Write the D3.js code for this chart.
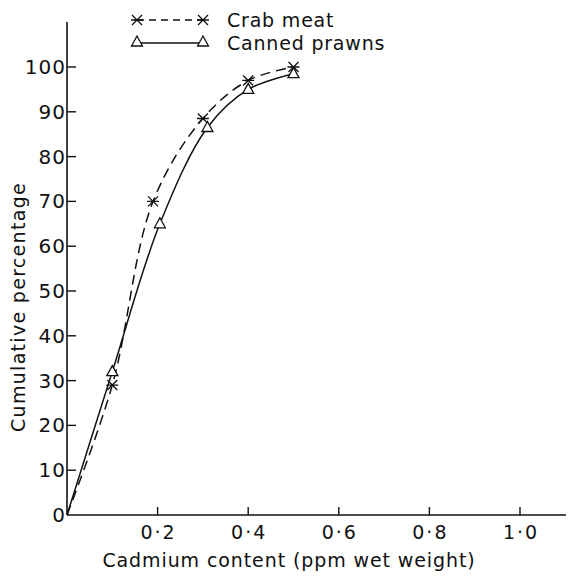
<!DOCTYPE html>
<html>
<head>
<meta charset="utf-8">
<script src="https://cdn.jsdelivr.net/npm/d3@7"></script>
<style>
  body { margin: 0; background: #fff; }
  svg text { font-family: "DejaVu Sans", sans-serif; fill: #111; }
</style>
</head>
<body>
<svg id="chart" width="568" height="576"></svg>
<script>
// Values
const crabX = [0, 0.1, 0.19, 0.3, 0.4, 0.5];
const crabY = [0, 29, 70, 88.5, 97, 100];
const prawnX = [0, 0.1, 0.205, 0.31, 0.4, 0.5];
const prawnY = [0, 32, 65, 86.5, 95, 98.5];
const xTicks = [0.2, 0.4, 0.6, 0.8, 1.0];
const xTickLabels = ["0·2", "0·4", "0·6", "0·8", "1·0"];
const yTicks = [0, 10, 20, 30, 40, 50, 60, 70, 80, 90, 100];
const seriesNames = ["Crab meat", "Canned prawns"];

const svg = d3.select("#chart");
const ink = "#111";

const x = d3.scaleLinear().domain([0, 1]).range([67, 520]);
const y = d3.scaleLinear().domain([0, 100]).range([515, 67]);

// Axes
const g = svg.append("g");

g.append("line")
  .attr("x1", x(0)).attr("x2", 566)
  .attr("y1", y(0)).attr("y2", y(0))
  .attr("stroke", ink).attr("stroke-width", 1.6);

g.append("line")
  .attr("x1", x(0)).attr("x2", x(0))
  .attr("y1", y(0)).attr("y2", 22)
  .attr("stroke", ink).attr("stroke-width", 1.6);

// x ticks point up into the plot
g.selectAll(".xtick")
  .data(xTicks)
  .enter().append("line")
  .attr("class", "xtick")
  .attr("x1", d => x(d)).attr("x2", d => x(d))
  .attr("y1", y(0)).attr("y2", y(0) - 8)
  .attr("stroke", ink).attr("stroke-width", 1.4);

g.selectAll(".xlabel")
  .data(xTicks)
  .enter().append("text")
  .attr("class", "xlabel")
  .attr("x", d => x(d) + 1)
  .attr("y", y(0) + 24)
  .attr("text-anchor", "middle")
  .style("font-size", "19px")
  .style("letter-spacing", "2px")
  .text((d, i) => xTickLabels[i]);

// y ticks point right into the plot
g.selectAll(".ytick")
  .data(yTicks.filter(d => d > 0))
  .enter().append("line")
  .attr("class", "ytick")
  .attr("x1", x(0)).attr("x2", x(0) + 9)
  .attr("y1", d => y(d)).attr("y2", d => y(d))
  .attr("stroke", ink).attr("stroke-width", 1.4);

g.selectAll(".ylabel")
  .data(yTicks)
  .enter().append("text")
  .attr("class", "ylabel")
  .attr("x", x(0) - 1)
  .attr("y", d => y(d) + 7)
  .attr("text-anchor", "end")
  .style("font-size", "20px")
  .style("letter-spacing", "1px")
  .text(d => d);

// Axis titles
svg.append("text")
  .attr("x", 289).attr("y", 567)
  .attr("text-anchor", "middle")
  .style("font-size", "19px")
  .style("letter-spacing", "0.9px")
  .text("Cadmium content (ppm wet weight)");

svg.append("text")
  .attr("transform", "translate(25,307) rotate(-90)")
  .attr("text-anchor", "middle")
  .style("font-size", "19px")
  .style("letter-spacing", "1.3px")
  .text("Cumulative percentage");

// Lines
const line = d3.line()
  .x(d => x(d[0]))
  .y(d => y(d[1]))
  .curve(d3.curveCatmullRom.alpha(0.5));

const crab = crabX.map((v, i) => [v, crabY[i]]);
const prawn = prawnX.map((v, i) => [v, prawnY[i]]);

svg.append("path")
  .datum(crab)
  .attr("d", line)
  .attr("fill", "none")
  .attr("stroke", ink)
  .attr("stroke-width", 1.5)
  .attr("stroke-dasharray", "10,6");

svg.append("path")
  .datum(prawn)
  .attr("d", line)
  .attr("fill", "none")
  .attr("stroke", ink)
  .attr("stroke-width", 1.5);

// Markers
function starMark(sel) {
  sel.append("path")
    .attr("d", "M-5,-5L5,5M-5,5L5,-5M-6,0L6,0")
    .attr("fill", "none")
    .attr("stroke", ink)
    .attr("stroke-width", 1.3);
}
function triMark(sel) {
  sel.append("path")
    .attr("d", "M0,-6L5.5,4L-5.5,4Z")
    .attr("fill", "#fff")
    .attr("stroke", ink)
    .attr("stroke-width", 1.3);
}

svg.selectAll(".crabpt")
  .data(crab.slice(1))
  .enter().append("g")
  .attr("class", "crabpt")
  .attr("transform", d => "translate(" + x(d[0]) + "," + y(d[1]) + ")")
  .call(starMark);

svg.selectAll(".prawnpt")
  .data(prawn.slice(1))
  .enter().append("g")
  .attr("class", "prawnpt")
  .attr("transform", d => "translate(" + x(d[0]) + "," + y(d[1]) + ")")
  .call(triMark);

// Legend
const legend = svg.append("g");

legend.append("line")
  .attr("x1", 137).attr("x2", 203).attr("y1", 20).attr("y2", 20)
  .attr("stroke", ink).attr("stroke-width", 1.4)
  .attr("stroke-dasharray", "7,5");
[137, 203].forEach(px => {
  legend.append("g").attr("transform", "translate(" + px + ",20)").call(starMark);
});
legend.append("text")
  .attr("x", 227).attr("y", 27)
  .style("font-size", "19px")
  .style("letter-spacing", "0.8px")
  .text(seriesNames[0]);

legend.append("line")
  .attr("x1", 137).attr("x2", 203).attr("y1", 43).attr("y2", 43)
  .attr("stroke", ink).attr("stroke-width", 1.4);
[137, 203].forEach(px => {
  legend.append("g").attr("transform", "translate(" + px + ",42)").call(triMark);
});
legend.append("text")
  .attr("x", 227).attr("y", 50)
  .style("font-size", "19px")
  .style("letter-spacing", "0.8px")
  .text(seriesNames[1]);
</script>
</body>
</html>
